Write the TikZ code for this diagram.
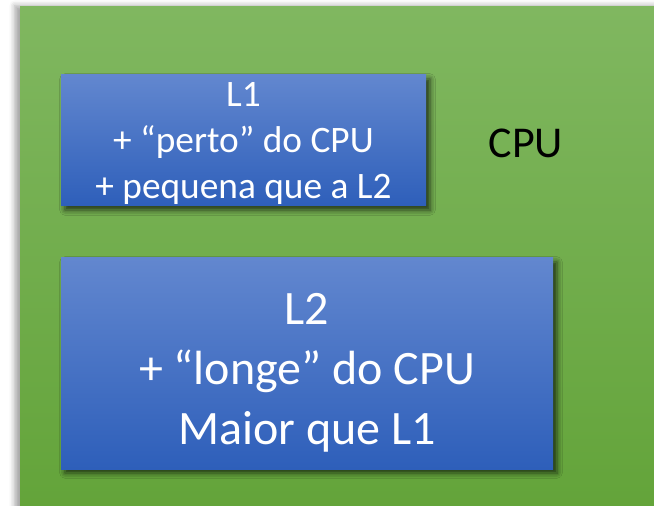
\documentclass[tikz,border=0pt]{standalone}
\usepackage{fontspec}
\setmainfont{Carlito}
\usetikzlibrary{shadows.blur}

\definecolor{cpuTop}{RGB}{128,183,96}
\definecolor{cpuBottom}{RGB}{98,163,56}
\definecolor{cacheTop}{RGB}{98,135,207}
\definecolor{cacheBottom}{RGB}{46,95,186}

\tikzset{every picture/.style={line width=0.75pt}}
\tikzset{
  cpubox/.style={top color=cpuTop, bottom color=cpuBottom, draw=none,
    blur shadow={shadow xshift=-4pt, shadow yshift=1pt, shadow blur radius=4pt, shadow opacity=35}},
  cachebox/.style={top color=cacheTop, bottom color=cacheBottom, draw=none,
    blur shadow={shadow xshift=3pt, shadow yshift=-3pt, shadow blur radius=4pt, shadow opacity=70}},
  cachetext/.style={text=white, align=center, inner sep=0pt}
}

\begin{document}
\begin{tikzpicture}[x=0.75pt,y=0.75pt,yscale=-1,xscale=1]
	%set diagram left start at 0, and has height of 506
	\useasboundingbox (0,0) rectangle (654,506);
	
	%Shape: Rectangle (CPU)
	\path [cpubox] (20,7) rectangle (680,530);
	%Shape: Rectangle (L1)
	\path [cachebox] (61,75) rectangle (426,206);
	%Shape: Rectangle (L2)
	\path [cachebox] (61,258) rectangle (553,469);
	
	% Text Node
	\node (l1) [cachetext, font=\fontsize{28}{34.2}\selectfont] at (243.5,143.5) {L1\\+ “perto” do CPU\\+ pequena que a L2};
	% Text Node
	\node (l2) [cachetext, font=\fontsize{36}{45}\selectfont] at (307,372.5) {L2\\+ “longe” do CPU\\Maior que L1};
	% Text Node
	\node (cpu) [anchor=base, inner sep=0pt, font=\fontsize{33}{40}\selectfont] at (526,158) {CPU};
	
\end{tikzpicture}
\end{document}
